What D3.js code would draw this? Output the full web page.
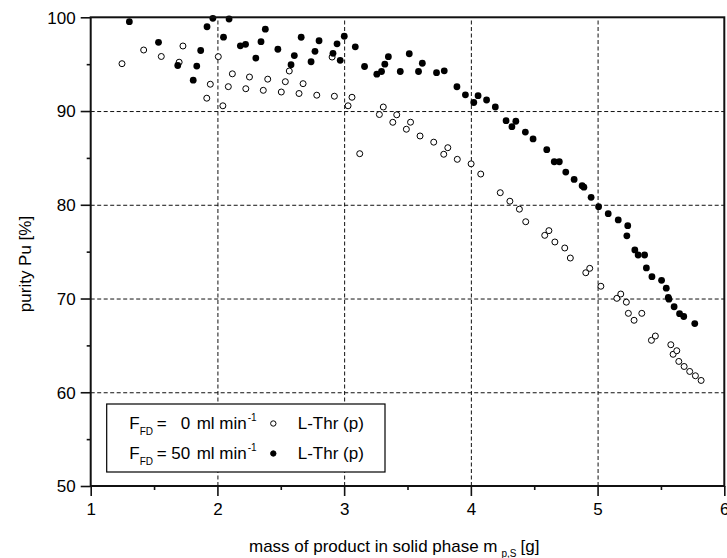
<!DOCTYPE html>
<html>
<head>
<meta charset="utf-8">
<script src="https://cdn.jsdelivr.net/npm/d3@7"></script>
<style>
  html, body { margin: 0; padding: 0; background: #fff; }
  svg { display: block; font-family: "Liberation Sans", Arial, sans-serif; }
</style>
</head>
<body>
<svg id="chart" width="727" height="558"></svg>
<script>
// ---- Data ----
const xTicks = [1, 2, 3, 4, 5, 6];
const xMinorTicks = [1.5, 2.5, 3.5, 4.5, 5.5];
const yTicks = [50, 60, 70, 80, 90, 100];
const yMinorTicks = [55, 65, 75, 85, 95];
const xGrid = [2, 3, 4, 5];
const yGrid = [60, 70, 80, 90];

// F_FD = 0 ml/min, L-Thr (p) — open circles
const openX = [1.247, 1.418, 1.557, 1.698, 1.728, 1.916, 1.944, 2.007, 2.043, 2.086,
  2.118, 2.224, 2.253, 2.362, 2.397, 2.504, 2.536, 2.567, 2.644, 2.676,
  2.784, 2.905, 2.923, 3.031, 3.062, 3.123, 3.278, 3.309, 3.384, 3.415,
  3.491, 3.524, 3.599, 3.707, 3.786, 3.818, 3.893, 4.002, 4.078, 4.232,
  4.308, 4.383, 4.433, 4.583, 4.616, 4.663, 4.741, 4.785, 4.907, 4.938,
  5.026, 5.152, 5.183, 5.227, 5.243, 5.288, 5.349, 5.425, 5.456, 5.578,
  5.596, 5.625, 5.641, 5.683, 5.727, 5.772, 5.817];
const openY = [95.05, 96.51, 95.82, 95.21, 96.94, 91.37, 92.86, 95.80, 90.56, 92.60,
  93.97, 92.38, 93.63, 92.21, 93.40, 92.03, 93.13, 94.27, 91.87, 92.92,
  91.69, 95.76, 91.58, 90.56, 91.47, 85.45, 89.63, 90.43, 88.80, 89.60,
  88.06, 88.81, 87.34, 86.68, 85.39, 86.09, 84.85, 84.37, 83.28, 81.29,
  80.38, 79.53, 78.19, 76.74, 77.24, 76.03, 75.39, 74.32, 72.75, 73.22,
  71.31, 70.02, 70.48, 69.61, 68.42, 67.68, 68.42, 65.54, 66.00, 65.07,
  64.05, 64.43, 63.29, 62.75, 62.22, 61.76, 61.26];

// F_FD = 50 ml/min, L-Thr (p) — filled circles
const filledX = [1.305, 1.535, 1.687, 1.809, 1.837, 1.868, 1.918, 1.964, 2.048, 2.092,
  2.181, 2.222, 2.303, 2.344, 2.378, 2.477, 2.581, 2.607, 2.661, 2.739,
  2.770, 2.802, 2.912, 2.944, 2.969, 3.001, 3.088, 3.161, 3.258, 3.295,
  3.321, 3.349, 3.443, 3.514, 3.587, 3.617, 3.729, 3.790, 3.890, 3.957,
  4.023, 4.057, 4.124, 4.193, 4.278, 4.324, 4.355, 4.430, 4.491, 4.599,
  4.658, 4.698, 4.749, 4.815, 4.878, 4.892, 4.949, 5.008, 5.084, 5.163,
  5.238, 5.231, 5.294, 5.320, 5.371, 5.385, 5.429, 5.505, 5.542, 5.558,
  5.563, 5.604, 5.647, 5.680, 5.767];
const filledY = [99.53, 97.33, 94.86, 93.29, 94.80, 96.46, 98.99, 99.89, 97.88, 99.82,
  96.96, 97.12, 95.65, 97.40, 98.73, 96.59, 94.94, 95.92, 97.87, 95.26,
  96.37, 97.50, 96.16, 97.17, 95.41, 97.98, 96.85, 94.75, 93.93, 94.22,
  95.00, 95.80, 94.22, 96.11, 94.22, 95.10, 94.09, 94.29, 92.59, 91.73,
  90.91, 91.64, 91.18, 90.43, 88.97, 88.33, 88.91, 87.76, 87.02, 85.88,
  84.59, 84.59, 83.49, 82.70, 82.04, 81.88, 80.80, 79.80, 79.05, 78.38,
  77.77, 76.69, 75.18, 74.64, 74.64, 73.26, 72.33, 71.94, 71.10, 70.13,
  69.93, 69.12, 68.38, 68.08, 67.33];

const legendRows = [
  { value: "0", filled: false, label: "L-Thr (p)" },
  { value: "50", filled: true, label: "L-Thr (p)" }
];

// ---- Layout ----
const W = 727, H = 558;
const m = { left: 90.7, right: 2.7, top: 17.3, bottom: 72 };
const iw = W - m.left - m.right, ih = H - m.top - m.bottom;
const FS = 17;

const svg = d3.select("#chart");
const g = svg.append("g").attr("transform", `translate(${m.left},${m.top})`);

const x = d3.scaleLinear().domain([1, 6]).range([0, iw]);
const y = d3.scaleLinear().domain([50, 100]).range([ih, 0]);

// Grid
g.append("g").attr("class", "grid")
  .attr("transform", `translate(0,${ih})`)
  .call(d3.axisBottom(x).tickValues(xGrid).tickSize(-ih).tickFormat(""))
  .call(s => s.select(".domain").remove())
  .call(s => s.selectAll("line").attr("stroke", "#111").attr("stroke-width", 1).attr("stroke-dasharray", "4,2.5"));
g.append("g").attr("class", "grid")
  .call(d3.axisLeft(y).tickValues(yGrid).tickSize(-iw).tickFormat(""))
  .call(s => s.select(".domain").remove())
  .call(s => s.selectAll("line").attr("stroke", "#111").attr("stroke-width", 1).attr("stroke-dasharray", "4,2.5"));

// Points
const openData = openX.map((v, i) => [v, openY[i]]);
const filledData = filledX.map((v, i) => [v, filledY[i]]);

g.append("g").selectAll("circle").data(openData).join("circle")
  .attr("cx", d => x(d[0])).attr("cy", d => y(d[1])).attr("r", 3)
  .attr("fill", "#fff").attr("stroke", "#000").attr("stroke-width", 1);
g.append("g").selectAll("circle").data(filledData).join("circle")
  .attr("cx", d => x(d[0])).attr("cy", d => y(d[1])).attr("r", 3.4)
  .attr("fill", "#000");

// Axes
const tickFont = s => s.selectAll("text").attr("font-size", FS).attr("fill", "#000")
  .attr("font-family", '"Liberation Sans", Arial, sans-serif');

g.append("g").attr("transform", `translate(0,${ih})`)
  .call(d3.axisBottom(x).tickValues(xMinorTicks).tickSize(4).tickFormat(""))
  .call(s => s.select(".domain").remove())
  .call(s => s.selectAll("line").attr("stroke", "#111").attr("stroke-width", 1.6));
g.append("g").attr("transform", `translate(0,${ih})`)
  .call(d3.axisBottom(x).tickValues(xTicks).tickSize(10).tickPadding(7).tickFormat(d3.format("d")))
  .call(s => s.select(".domain").remove())
  .call(s => s.selectAll("line").attr("stroke", "#111").attr("stroke-width", 1.6))
  .call(tickFont);

g.append("g")
  .call(d3.axisLeft(y).tickValues(yMinorTicks).tickSize(4).tickFormat(""))
  .call(s => s.select(".domain").remove())
  .call(s => s.selectAll("line").attr("stroke", "#111").attr("stroke-width", 1.6));
g.append("g")
  .call(d3.axisLeft(y).tickValues(yTicks).tickSize(10).tickPadding(5).tickFormat(d3.format("d")))
  .call(s => s.select(".domain").remove())
  .call(s => s.selectAll("line").attr("stroke", "#111").attr("stroke-width", 1.6))
  .call(tickFont)
  .call(s => s.selectAll("text").attr("dy", "0.35em"));

// Frame
g.append("rect").attr("x", 0).attr("y", 0).attr("width", iw).attr("height", ih)
  .attr("fill", "none").attr("stroke", "#111").attr("stroke-width", 2);

// Legend
const lg = g.append("g").attr("transform", `translate(${106.7 - m.left},${404 - m.top})`);
lg.append("rect").attr("x", 0).attr("y", 0).attr("width", 278.3).attr("height", 68)
  .attr("fill", "#fff").attr("stroke", "#000").attr("stroke-width", 1.2);
legendRows.forEach((r, i) => {
  const by = 25 + i * 30;
  const row = lg.append("g").attr("font-size", FS).attr("fill", "#000");
  row.append("text").attr("x", 22.6).attr("y", by).text("F");
  row.append("text").attr("x", 33).attr("y", by + 6).attr("font-size", 10).text("FD");
  row.append("text").attr("x", 50).attr("y", by).text("=");
  row.append("text").attr("x", 83.5).attr("y", by).attr("text-anchor", "end").text(r.value);
  row.append("text").attr("x", 90).attr("y", by).text("ml min");
  row.append("text").attr("x", 141).attr("y", by - 8).attr("font-size", 10).text("-1");
  row.append("circle").attr("cx", 166.6).attr("cy", by - 5.5).attr("r", 2.7)
    .attr("fill", r.filled ? "#000" : "#fff").attr("stroke", "#000").attr("stroke-width", 1);
  row.append("text").attr("x", 191).attr("y", by).text(r.label);
});

// Axis titles
svg.append("text")
  .attr("transform", `translate(31,264) rotate(-90)`)
  .attr("text-anchor", "middle").attr("font-size", FS).attr("fill", "#000")
  .text("purity Pu [%]");

const xt = svg.append("text").attr("x", 249).attr("y", 552)
  .attr("font-size", FS).attr("fill", "#000");
xt.append("tspan").text("mass of product in solid phase m");
xt.append("tspan").attr("font-size", 10).attr("dx", 4).attr("dy", 5).text("p,S");
xt.append("tspan").attr("dx", 4).attr("dy", -5).text("[g]");
</script>
</body>
</html>
